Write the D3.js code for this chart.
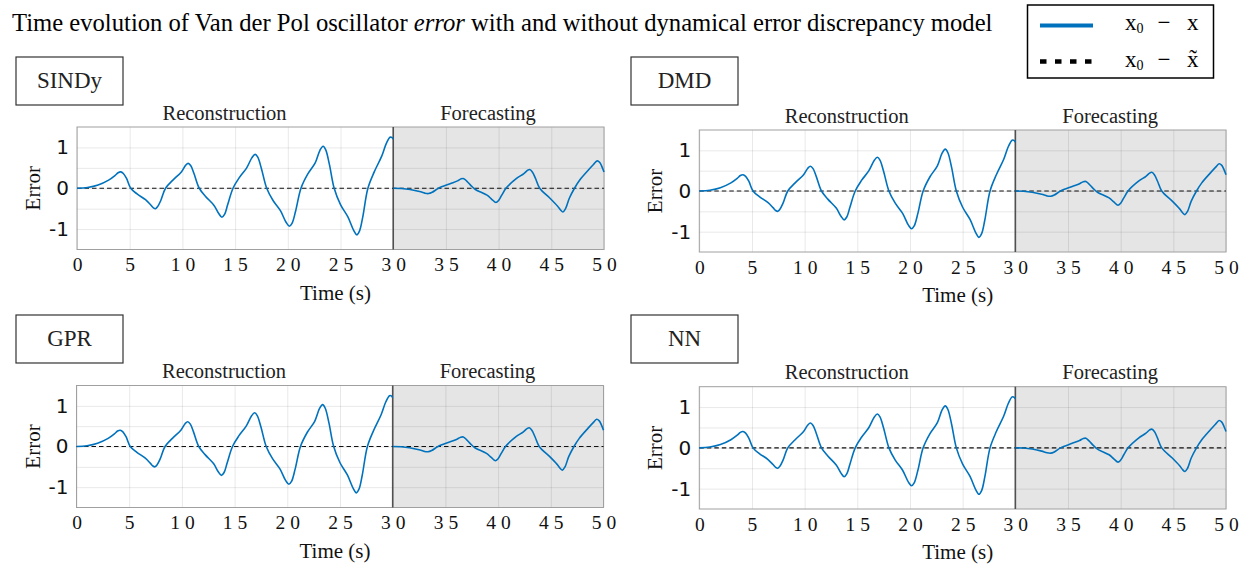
<!DOCTYPE html>
<html><head><meta charset="utf-8">
<script src="https://cdn.jsdelivr.net/npm/d3@7"></script>
<style>
body{margin:0;background:#fff;}
svg{display:block;}
</style></head><body>
<svg id="chart" width="1246" height="568"></svg>
<script>
// ---------------- data ----------------
const panelNames = ["SINDy", "DMD", "GPR", "NN"];
const regionLabels = ["Reconstruction", "Forecasting"];
const regionLabelTimes = [14, 39];
const xTickValues = [0, 5, 10, 15, 20, 25, 30, 35, 40, 45, 50];
const xTickLabels = ["0", "5", "10", "15", "20", "25", "30", "35", "40", "45", "50"];
const yTickValues = [-1, 0, 1];
const yTickLabels = ["-1", "0", "1"];
const yGridValues = [-1, -0.5, 0, 0.5, 1];
const splitTime = 30;

// x0 - x  (reconstruction window, 0-30 s)
const recTime = [0, 1, 2, 3, 3.6, 3.9, 4.15, 4.4, 4.7, 5.1, 5.7, 6.5, 7.0, 7.25, 7.45, 7.65, 7.95, 8.4,
  9.1, 9.9, 10.3, 10.55, 10.8, 11.1, 11.6, 12.2, 13.0, 13.45, 13.75, 14.0, 14.3, 14.8,
  15.4, 16.1, 16.6, 16.9, 17.15, 17.5, 18.0, 18.6, 19.3, 19.85, 20.15, 20.4, 20.75, 21.25,
  21.9, 22.6, 23.05, 23.35, 23.6, 23.95, 24.4, 25.0, 25.7, 26.25, 26.55, 26.8, 27.1, 27.6,
  28.2, 28.9, 29.35, 29.7, 29.9, 30];
const recError = [0, 0.02, 0.08, 0.2, 0.31, 0.38, 0.40, 0.36, 0.24, 0.0, -0.14, -0.28, -0.41, -0.48, -0.50, -0.45, -0.30, 0.0,
  0.20, 0.40, 0.56, 0.61, 0.55, 0.36, 0.0, -0.20, -0.42, -0.62, -0.71, -0.64, -0.40, 0.0,
  0.26, 0.50, 0.75, 0.83, 0.76, 0.48, 0.0, -0.30, -0.55, -0.84, -0.93, -0.86, -0.55, 0.0,
  0.35, 0.62, 0.93, 1.03, 0.94, 0.58, 0.0, -0.40, -0.70, -1.03, -1.14, -1.05, -0.72, 0.0,
  0.40, 0.78, 1.10, 1.25, 1.24, 1.20];

// x0 - x  (forecasting window, 30-50 s)
const fcTime = [30, 30.8, 31.6, 32.5, 33.0, 33.35, 33.7, 34.3, 35.4, 36.1, 36.45, 36.7, 37.0, 37.4, 37.8,
  38.9, 39.35, 39.75, 40.0, 40.3, 40.7, 41.7, 42.4, 42.75, 42.95, 43.2, 43.5, 43.9,
  44.9, 45.6, 45.9, 46.1, 46.35, 46.7, 47.2, 47.7, 48.5, 49.0, 49.35, 49.6, 49.8, 50];
const fcError = [0, -0.005, -0.03, -0.08, -0.12, -0.13, -0.10, 0.0, 0.11, 0.18, 0.23, 0.235, 0.17, 0.06, -0.03,
  -0.17, -0.27, -0.35, -0.30, -0.17, 0.0, 0.24, 0.36, 0.44, 0.46, 0.40, 0.24, 0.0,
  -0.25, -0.44, -0.54, -0.58, -0.50, -0.25, 0.0, 0.20, 0.44, 0.58, 0.67, 0.63, 0.53, 0.40];

// x0 - x~ (with dynamical error discrepancy model)
const modelTime = [0, 30, 50];
const modelError = [0, 0, 0];

// ---------------- layout ----------------
const SERIF = '"Liberation Serif","Times New Roman",serif';
const SANS = '"DejaVu Sans",sans-serif';
const BLUE = "#0072BD";
const layout = [
  {x0: 77, x1: 604, y0: 127, y1: 249.5, bx: 16, by: 57},
  {x0: 699.3, x1: 1226, y0: 130, y1: 252, bx: 631, by: 57},
  {x0: 76.5, x1: 603.5, y0: 385.5, y1: 507.5, bx: 16, by: 315},
  {x0: 699.3, x1: 1226, y0: 386.7, y1: 509, bx: 631, by: 315}
];

const svg = d3.select("#chart");
svg.append("rect").attr("width", 1246).attr("height", 568).attr("fill", "#fff");

// title
const title = svg.append("text").attr("x", 12).attr("y", 31)
  .attr("font-family", SERIF).attr("font-size", 24).attr("fill", "#000");
title.append("tspan").text("Time evolution of Van der Pol oscillator ");
title.append("tspan").attr("font-style", "italic").text("error");
title.append("tspan").text(" with and without dynamical error discrepancy model");
const tw = title.node().getComputedTextLength();
title.attr("font-size", 24 * 981 / tw);

// legend
const lg = svg.append("g");
lg.append("rect").attr("x", 1027.5).attr("y", 5).attr("width", 186).attr("height", 73)
  .attr("fill", "#fff").attr("stroke", "#000").attr("stroke-width", 1.5);
lg.append("line").attr("x1", 1040).attr("x2", 1093).attr("y1", 25.5).attr("y2", 25.5)
  .attr("stroke", BLUE).attr("stroke-width", 4);
lg.append("line").attr("x1", 1040).attr("x2", 1093).attr("y1", 61.5).attr("y2", 61.5)
  .attr("stroke", "#000").attr("stroke-width", 4.5).attr("stroke-dasharray", "6.5,8.5");
[[29.5, "x"], [66.5, "x\u0303"]].forEach(([by, last]) => {
  lg.append("text").attr("x", 1125).attr("y", by).attr("font-family", SERIF).attr("font-size", 23).text("x");
  lg.append("text").attr("x", 1136.5).attr("y", by + 3.5).attr("font-family", SERIF).attr("font-size", 14).text("0");
  lg.append("text").attr("x", 1164).attr("y", by).attr("text-anchor", "middle").attr("font-family", SERIF).attr("font-size", 23).text("\u2212");
  lg.append("text").attr("x", 1187).attr("y", by).attr("font-family", SERIF).attr("font-size", 23).text(last);
});

// panels
panelNames.forEach((name, i) => {
  const L = layout[i];
  const g = svg.append("g");
  const x = d3.scaleLinear().domain([0, 50]).range([L.x0, L.x1]);
  const y = d3.scaleLinear().domain([-1.5, 1.5]).range([L.y1, L.y0]);
  const H = L.y1 - L.y0, W = L.x1 - L.x0;

  // forecast shading
  g.append("rect").attr("x", x(splitTime)).attr("y", L.y0)
    .attr("width", x(50) - x(splitTime)).attr("height", H).attr("fill", "#e5e5e5");

  // grid
  const gx = g.append("g").attr("transform", `translate(0,${L.y1})`)
    .call(d3.axisBottom(x).tickValues(xTickValues).tickSize(-H).tickFormat(""));
  gx.select(".domain").remove();
  gx.selectAll("line").attr("stroke", "#000").attr("stroke-opacity", 0.09);
  const gy = g.append("g").attr("transform", `translate(${L.x0},0)`)
    .call(d3.axisLeft(y).tickValues(yGridValues).tickSize(-W).tickFormat(""));
  gy.select(".domain").remove();
  gy.selectAll("line").attr("stroke", "#000").attr("stroke-opacity", 0.09);

  // box
  g.append("rect").attr("x", L.x0).attr("y", L.y0).attr("width", W).attr("height", H)
    .attr("fill", "none").attr("stroke", "#a0a0a0").attr("stroke-width", 1);

  // split line
  g.append("line").attr("x1", x(splitTime)).attr("x2", x(splitTime)).attr("y1", L.y0).attr("y2", L.y1)
    .attr("stroke", "#505050").attr("stroke-width", 1.6);

  // model error (dashed)
  const lineGen = d3.line().x(d => x(d[0])).y(d => y(d[1]));
  g.append("path").datum(modelTime.map((t, k) => [t, modelError[k]]))
    .attr("d", lineGen).attr("fill", "none").attr("stroke", "#111")
    .attr("stroke-width", 1.2).attr("stroke-dasharray", "4.5,3");

  // raw error (solid)
  const curveGen = d3.line().x(d => x(d[0])).y(d => y(d[1])).curve(d3.curveCatmullRom.alpha(0.5));
  [[recTime, recError], [fcTime, fcError]].forEach(([ts, vs]) => {
    g.append("path").datum(ts.map((t, k) => [t, vs[k]]))
      .attr("d", curveGen).attr("fill", "none").attr("stroke", BLUE).attr("stroke-width", 1.6)
      .attr("stroke-linejoin", "round");
  });

  // axes labels
  const ax = g.append("g").attr("transform", `translate(0,${L.y1})`)
    .call(d3.axisBottom(x).tickValues(xTickValues).tickSize(0).tickPadding(8)
      .tickFormat((d, k) => xTickLabels[k]));
  ax.select(".domain").remove();
  ax.selectAll("text").attr("font-family", SERIF).attr("font-size", 19.5)
    .attr("letter-spacing", "5px").attr("dx", "2.5px").attr("fill", "#111");
  const ay = g.append("g").attr("transform", `translate(${L.x0},0)`)
    .call(d3.axisLeft(y).tickValues(yTickValues).tickSize(0).tickPadding(8)
      .tickFormat((d, k) => yTickLabels[k]));
  ay.select(".domain").remove();
  ay.selectAll("text").attr("font-family", SANS).attr("font-size", 20).attr("fill", "#111");

  g.append("text").attr("x", (L.x0 + L.x1) / 2 - 5).attr("y", L.y1 + 50)
    .attr("text-anchor", "middle").attr("font-family", SERIF).attr("font-size", 21)
    .attr("fill", "#111").text("Time (s)");
  g.append("text").attr("transform", `translate(${L.x0 - 37},${(L.y0 + L.y1) / 2}) rotate(-90)`)
    .attr("text-anchor", "middle").attr("font-family", SERIF).attr("font-size", 21)
    .attr("fill", "#111").text("Error");

  regionLabels.forEach((lab, k) => {
    g.append("text").attr("x", x(regionLabelTimes[k])).attr("y", L.y0 - 7.5)
      .attr("text-anchor", "middle").attr("font-family", SERIF).attr("font-size", 20.5)
      .attr("fill", "#222").text(lab);
  });

  // method box
  g.append("rect").attr("x", L.bx).attr("y", L.by).attr("width", 107).attr("height", 48)
    .attr("fill", "#fff").attr("stroke", "#333").attr("stroke-width", 1.2);
  g.append("text").attr("x", L.bx + 53.5).attr("y", L.by + 31)
    .attr("text-anchor", "middle").attr("font-family", SERIF).attr("font-size", 23)
    .attr("fill", "#222").text(name);
});
</script>
</body></html>
